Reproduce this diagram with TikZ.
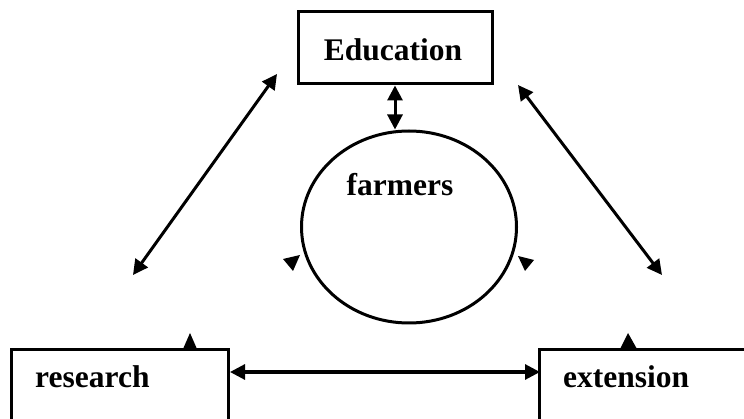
\documentclass[tikz,border=0pt]{standalone}
\usepackage{fontspec}
\setmainfont{Liberation Serif}
\usetikzlibrary{arrows.meta,shapes.geometric}
\begin{document}
\begin{tikzpicture}[x=1pt,y=-1pt,
  box/.style={draw,line width=3pt,minimum width=#1,inner sep=0pt},
  lbl/.style={font=\fontsize{31.5}{36}\selectfont\bfseries,inner sep=0pt},
  link/.style={line width=3pt,{Triangle[length=15pt,width=15pt]}-{Triangle[length=15pt,width=15pt]}},
  tri/.style={fill=black}]
\useasboundingbox (0,0) rectangle (744,419);
% boxes
\node[box=194pt,minimum height=72pt] (edu) at (395,48) {};
\node[box=217pt,minimum height=120pt,anchor=north west] (research) at (10,348) {};
\node[box=230pt,minimum height=120pt,anchor=north west] (extension) at (538,348) {};
\node[draw,ellipse,line width=3pt,minimum width=215pt,minimum height=192pt,inner sep=0pt] (farmers) at (409,227) {};
% labels
\node[lbl,anchor=base] (edulbl) at (393,61) {Education};
\node[lbl,anchor=base] (farmlbl) at (400,196) {farmers};
\node[lbl,anchor=base west] (reslbl) at (35,388) {research};
\node[lbl,anchor=base west] (extlbl) at (563,388) {extension};
% free ends
\coordinate (tl1) at (133,275);
\coordinate (tl2) at (277,74);
\coordinate (tr1) at (518,85);
\coordinate (tr2) at (662,275);
\coordinate (hl) at (230,372);
\coordinate (hr) at (540,372);
% connectors
\draw[link] (edu.south) -- (edu.south |- farmers.north);
\draw[link] (tl1) -- (tl2);
\draw[link] (tr1) -- (tr2);
\draw[link] (hl) -- (hr);
% loose arrowheads
\fill[tri] (283,259) -- (300,255) -- (293,271) -- cycle;
\fill[tri] (518,256) -- (534,260) -- (525,271) -- cycle;
\fill[tri] (183,349) -- (190,333) -- (197,349) -- cycle;
\fill[tri] (620,349) -- (628,333) -- (637,349) -- cycle;
\end{tikzpicture}
\end{document}
